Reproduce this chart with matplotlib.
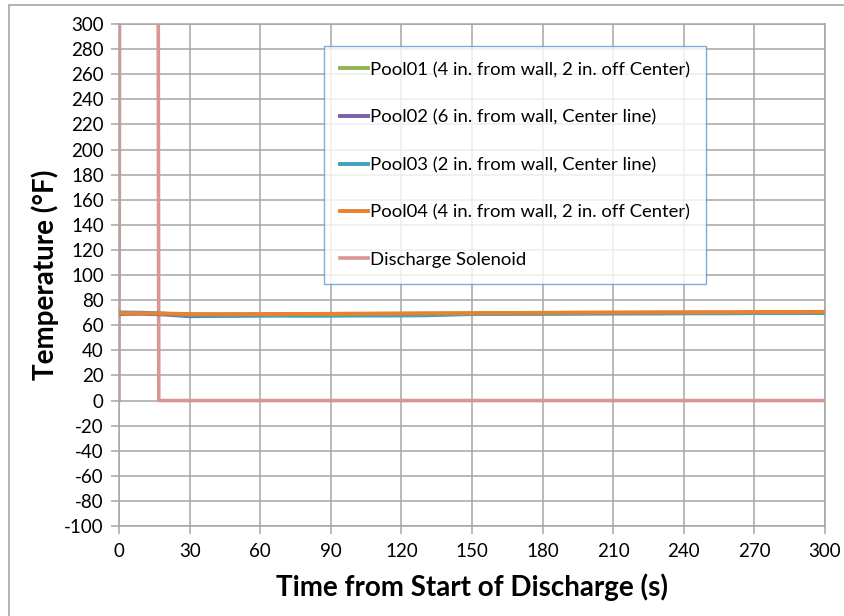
import matplotlib
matplotlib.use("Agg")
import matplotlib.pyplot as plt
from matplotlib.patches import Rectangle

plt.rcParams['font.family'] = ['Lato', 'DejaVu Sans']
plt.rcParams['axes.unicode_minus'] = False

time_s = [0, 10, 20, 30, 40, 50, 60, 70, 80, 90, 100, 110, 120, 130, 140, 150,
          160, 170, 180, 190, 200, 210, 220, 230, 240, 250, 260, 270, 280, 290, 300]
pool01 = [69.8, 69.6, 69.0, 68.6, 68.7, 68.8, 68.9, 69.0, 69.0, 69.1, 69.2, 69.2, 69.3, 69.4, 69.5, 69.6,
          69.7, 69.7, 69.8, 69.8, 69.9, 70.0, 70.0, 70.1, 70.1, 70.2, 70.2, 70.3, 70.3, 70.4, 70.4]
pool02 = [69.0, 69.2, 68.5, 67.2, 67.4, 67.8, 68.0, 68.2, 68.3, 68.4, 68.5, 68.6, 68.7, 68.8, 68.9, 69.0,
          69.1, 69.2, 69.2, 69.3, 69.4, 69.4, 69.5, 69.5, 69.6, 69.6, 69.6, 69.7, 69.7, 69.8, 69.8]
pool03 = [70.2, 70.0, 69.2, 67.8, 67.6, 67.5, 67.6, 67.6, 67.5, 67.6, 67.7, 67.7, 67.8, 67.9, 68.4, 68.9,
          69.1, 69.2, 69.3, 69.3, 69.4, 69.5, 69.5, 69.5, 69.6, 69.6, 69.6, 69.7, 69.7, 69.7, 69.8]
pool04 = [69.6, 69.5, 69.3, 68.9, 68.8, 68.8, 68.9, 68.9, 69.0, 69.0, 69.1, 69.2, 69.3, 69.4, 69.5, 69.6,
          69.7, 69.8, 69.9, 70.0, 70.1, 70.1, 70.2, 70.3, 70.3, 70.4, 70.4, 70.5, 70.6, 70.6, 70.7]

solenoid_t = [0, 0.3, 16.6, 16.9, 300]
solenoid_v = [0, 400, 400, 0, 0]

labels = ["Pool01 (4 in. from wall, 2 in. off Center)",
          "Pool02 (6 in. from wall, Center line)",
          "Pool03 (2 in. from wall, Center line)",
          "Pool04 (4 in. from wall, 2 in. off Center)",
          "Discharge Solenoid"]
colors = ["#8db652", "#7d5ea8", "#3fa3bd", "#e8822e", "#d99694"]

xticks = list(range(0, 301, 30))
yticks = list(range(-100, 301, 20))

fig = plt.figure(figsize=(8.44, 6.16), dpi=100)
ax = fig.add_axes([0.141, 0.146, 0.8365, 0.815])

series = [pool01, pool02, pool03, pool04]
for vals, lab, col in zip(series, labels[:4], colors[:4]):
    ax.plot(time_s, vals, color=col, lw=2.8, label=lab, zorder=3)
ax.plot(solenoid_t, solenoid_v, color=colors[4], lw=2.6, label=labels[4], zorder=2)

ax.set_xlim(0, 300)
ax.set_ylim(-100, 300)
ax.set_xticks(xticks)
ax.set_yticks(yticks)
ax.grid(True, color="#a6a6a6", lw=1.1)
ax.set_axisbelow(True)
for sp in ax.spines.values():
    sp.set_color("#a6a6a6")
    sp.set_linewidth(1.1)
ax.tick_params(axis='both', direction='out', length=6, width=1.1, color="#a6a6a6",
               labelsize=13.5, labelcolor="black")
ax.tick_params(axis='x', pad=6)
ax.tick_params(axis='y', pad=5)

ax.set_xlabel("Time from Start of Discharge (s)", fontsize=20, fontweight='bold', labelpad=10)
ax.set_ylabel("Temperature (°F)", fontsize=20, fontweight='bold', labelpad=4)

leg = ax.legend(loc='upper left', bbox_to_anchor=(0.291, 0.956), fontsize=13.3,
                handlelength=1.5, handletextpad=0.1, labelspacing=1.7,
                borderpad=0.85, frameon=True, fancybox=False, borderaxespad=0)
leg.get_frame().set_edgecolor("#5b9bd5")
leg.get_frame().set_linewidth(1.0)

fig.patches.append(Rectangle((9/844, -0.05), 1.1, 1 - 5/616 + 0.05, transform=fig.transFigure,
                             fill=False, edgecolor="#a6a6a6", lw=1.2))

fig.savefig("out.png", dpi=100)
